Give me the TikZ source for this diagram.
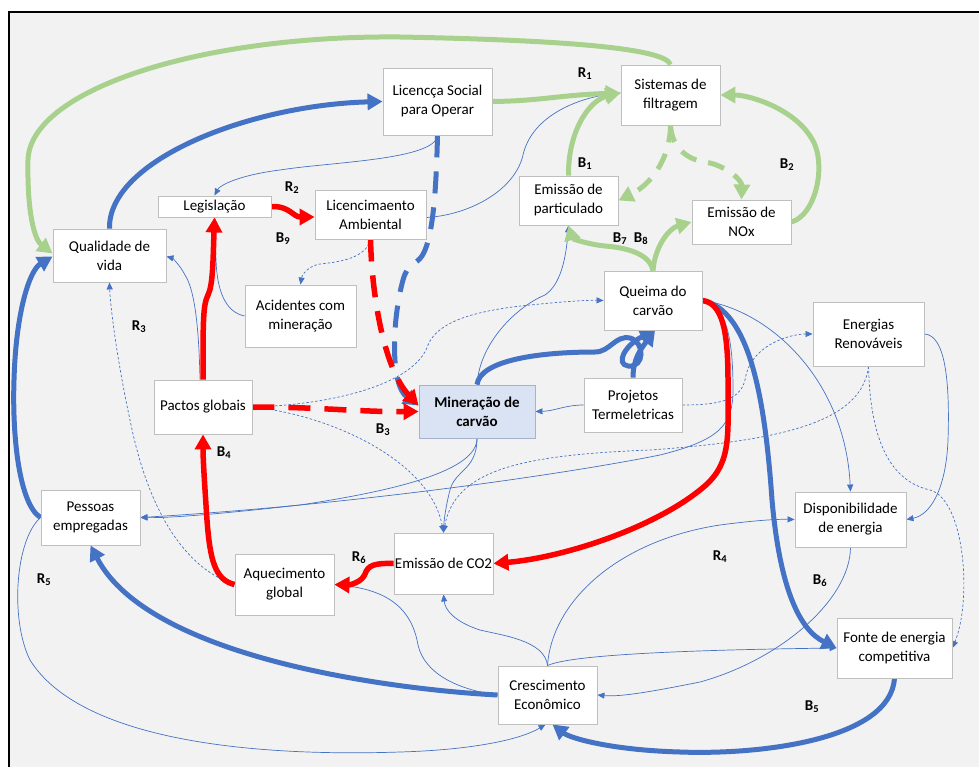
\documentclass[tikz,border=0pt]{standalone}
\usepackage{fontspec}
\setmainfont{Carlito}
\usetikzlibrary{arrows.meta,calc}
\definecolor{bgC}{HTML}{F2F2F2}
\definecolor{blueC}{HTML}{4472C4}
\definecolor{greenC}{HTML}{A9D18E}
\definecolor{redC}{HTML}{FF0000}
\definecolor{boxline}{HTML}{BFBFBF}
\definecolor{minerfill}{HTML}{DAE3F3}
\definecolor{minerline}{HTML}{A5B4CC}
\pgfdeclarelayer{bg}
\pgfdeclarelayer{edges}
\pgfsetlayers{bg,edges,main}
\newcommand\nodetextfont{\fontsize{15}{19}\selectfont}
\newcommand\looplabelfont{\fontsize{15}{17}\selectfont\bfseries}
\tikzset{
  box/.style={draw=boxline, fill=white, line width=0.9pt, inner sep=1pt,
    align=center, font=\nodetextfont},
  minerbox/.style={box, draw=minerline, fill=minerfill, font=\nodetextfont\bfseries},
  lbl/.style={font=\looplabelfont, inner sep=0pt},
  bigtip/.style={-{Triangle[length=15pt,width=16pt]}},
  gthick/.style={greenC, line width=5pt, bigtip},
  bthick/.style={blueC, line width=5pt, bigtip},
  rthick/.style={redC, line width=5.5pt, bigtip},
  bigdash/.style={dash pattern=on 22pt off 14pt},
  gdash/.style={dash pattern=on 17pt off 12pt},
  thinln/.style={blueC, line width=0.7pt, -{Triangle[length=7pt,width=6pt]}},
  thindash/.style={thinln, dash pattern=on 2.5pt off 2pt},
}
\begin{document}
\begin{tikzpicture}[x=1pt,y=-1pt]
\useasboundingbox (0,0) rectangle (979,767);
\begin{pgfonlayer}{bg}
  \fill[bgC] (9,12) rectangle (979,767);
  \draw[black, line width=1.2pt] (9,767) -- (9,12) -- (979,12);
\end{pgfonlayer}

% variables
\node[box, minimum width=109pt, minimum height=67pt] (lic) at (437.5,101.5) {Licencça Social\\para Operar};
\node[box, minimum width=99pt, minimum height=60pt] (sis) at (670.5,95) {Sistemas de\\filtragem};
\node[box, minimum width=113pt, minimum height=21pt] (leg) at (214.5,206.5) {Legislação};
\node[box, minimum width=111pt, minimum height=49pt] (amb) at (370.5,214.5) {Licencimaento\\Ambiental};
\node[box, minimum width=113pt, minimum height=53pt] (qual) at (109.5,255.5) {Qualidade de\\vida};
\node[box, minimum width=99pt, minimum height=49pt] (part) at (568.5,200.5) {Emissão de\\particulado};
\node[box, minimum width=99pt, minimum height=44pt] (nox) at (741.5,222) {Emissão de\\NOx};
\node[box, minimum width=98pt, minimum height=59pt] (queima) at (653,300.5) {Queima do\\carvão};
\node[box, minimum width=111pt, minimum height=62pt] (acid) at (300.5,316) {Acidentes com\\mineração};
\node[box, minimum width=98pt, minimum height=54pt] (pactos) at (203,407) {Pactos globais};
\node[minerbox, minimum width=116pt, minimum height=53pt] (miner) at (477,411.5) {Mineração de\\carvão};
\node[box, minimum width=98pt, minimum height=54pt] (proj) at (633,405) {Projetos\\Termeletricas};
\node[box, minimum width=111pt, minimum height=64pt] (renov) at (868.5,334) {Energias\\Renováveis};
\node[box, minimum width=111pt, minimum height=55pt] (disp) at (850.5,519.5) {Disponibilidade\\de energia};
\node[box, minimum width=99pt, minimum height=55pt] (pess) at (90.5,517.5) {Pessoas\\empregadas};
\node[box, minimum width=99pt, minimum height=61pt] (aquec) at (284.5,584.5) {Aquecimento\\global};
\node[box, minimum width=99pt, minimum height=61pt, inner sep=0pt] (co2) at (443.5,563.5) {Emissão de CO2};
\node[box, minimum width=99pt, minimum height=58pt] (cresc) at (547.5,695) {Crescimento\\Econômico};
\node[box, minimum width=115pt, minimum height=60pt] (fonte) at (894.5,648) {Fonte de energia\\competitiva};

% loop labels
\node[lbl] (r1) at (585,74) {R\textsubscript{1}};
\node[lbl] (b1) at (585,164) {B\textsubscript{1}};
\node[lbl] (b2) at (787,165) {B\textsubscript{2}};
\node[lbl] (b7) at (620,239) {B\textsubscript{7}};
\node[lbl] (b8) at (641,239) {B\textsubscript{8}};
\node[lbl] (r2) at (292,188) {R\textsubscript{2}};
\node[lbl] (b9) at (283,239) {B\textsubscript{9}};
\node[lbl] (r3) at (139,327) {R\textsubscript{3}};
\node[lbl] (b3) at (383,430) {B\textsubscript{3}};
\node[lbl] (b4) at (224,453) {B\textsubscript{4}};
\node[lbl] (r5) at (44,580) {R\textsubscript{5}};
\node[lbl] (r6) at (359,558) {R\textsubscript{6}};
\node[lbl] (r4) at (720,557) {R\textsubscript{4}};
\node[lbl] (b6) at (820,581) {B\textsubscript{6}};
\node[lbl] (b5) at (812,707) {B\textsubscript{5}};

\begin{pgfonlayer}{edges}
% thin links
\draw[thinln] ([yshift=-3pt]amb.east) .. controls (470,215) and (515,190) .. (523,155) .. controls (532,115) and (580,97) .. ([yshift=2pt]sis.west);
\draw[thinln] (lic.south) .. controls (435,160) and (330,162) .. (280,170) .. controls (240,175) and (220,185) .. (leg.north);
\draw[thindash] (amb.south) .. controls (366,258) and (340,262) .. (320,264) .. controls (308,266) and (302,275) .. (acid.north);
\draw[thinln] (acid.west) .. controls (225,312) and (217,290) .. (216,260) .. controls (215,240) and (215,230) .. (leg.south);
\draw[thinln] ([xshift=-3pt]pactos.north) .. controls (199,330) and (195,290) .. (185,275) .. controls (180,265) and (172,258) .. ([yshift=-1pt]qual.east);
\draw[thindash] (aquec.west) .. controls (190,570) and (150,520) .. (130,420) .. controls (115,350) and (110,300) .. (qual.south);
\draw[thindash] (pactos.east) .. controls (330,405) and (415,385) .. (428,345) .. controls (438,320) and (480,310) .. (530,305) .. controls (560,302) and (585,300) .. (queima.west);
\draw[thindash] (pactos.east) .. controls (330,415) and (430,460) .. (co2.north);
\draw[thinln] (miner.north) .. controls (480,340) and (520,305) .. (545,295) .. controls (560,285) and (566,260) .. (part.south);
\draw[thinln] (proj.west) .. controls (565,405) and (555,411) .. (miner.east);
\draw[thindash] (proj.east) .. controls (720,405) and (740,400) .. (745,380) .. controls (750,345) and (790,334) .. (renov.west);
\draw[thinln] (queima.east) .. controls (770,310) and (845,380) .. (disp.north);
\draw[thinln] (renov.east) .. controls (945,335) and (950,380) .. (948,440) .. controls (946,490) and (930,515) .. (disp.east);
\draw[thindash] (renov.south) .. controls (870,430) and (885,480) .. (930,490) .. controls (965,500) and (972,600) .. (fonte.east);
\draw[thindash] (renov.south) .. controls (862,420) and (790,440) .. (650,450) .. controls (520,455) and (455,470) .. (co2.north);
\draw[thinln] (miner.south) .. controls (477,470) and (455,470) .. (450,490) .. controls (446,505) and (444,520) .. (co2.north);
\draw[thinln] (miner.south) .. controls (477,470) and (400,490) .. (300,505) .. controls (220,514) and (170,518) .. (pess.east);
\draw[thinln] (queima.east) .. controls (727,305) and (733,340) .. (733,390) .. controls (733,425) and (720,440) .. (660,455) .. controls (560,475) and (350,505) .. (pess.east);
\draw[thinln] (cresc.west) .. controls (460,690) and (425,675) .. (418,645) .. controls (412,610) and (390,590) .. (aquec.east);
\draw[thinln] (cresc.north) .. controls (545,640) and (500,635) .. (480,630) .. controls (455,622) and (445,610) .. (co2.south);
\draw[thinln] (cresc.north) .. controls (552,600) and (620,540) .. (720,525) .. controls (750,521) and (775,519) .. (disp.west);
\draw[thinln] (cresc.north) .. controls (570,655) and (680,650) .. (fonte.west);
\draw[thinln] (disp.south) .. controls (850,600) and (780,660) .. (700,682) .. controls (650,692) and (620,697) .. (cresc.east);
\draw[thinln] (pess.west) .. controls (15,540) and (10,620) .. (30,660) .. controls (80,740) and (250,757) .. (400,752) .. controls (470,750) and (520,740) .. ([xshift=-2pt]cresc.south);

% green links
\draw[gthick] (sis.north) .. controls (665,48) and (560,40) .. (400,37) .. controls (200,35) and (30,90) .. (28,160) .. controls (27,215) and (35,240) .. ([yshift=2pt]qual.west);
\draw[gthick] (lic.east) .. controls (540,101) and (560,95) .. ([yshift=2pt]sis.west);
\draw[gthick] (part.north) .. controls (568,130) and (590,100) .. ([yshift=2pt]sis.west);
\draw[gthick, gdash] (sis.south) .. controls (670,160) and (650,185) .. (part.east);
\draw[gthick, gdash] (sis.south) .. controls (672,150) and (690,160) .. (705,162) .. controls (725,165) and (742,180) .. (nox.north);
\draw[gthick] (nox.east) .. controls (815,215) and (825,170) .. (815,145) .. controls (800,110) and (750,95) .. (sis.east);
\draw[gthick] (queima.north) .. controls (650,255) and (630,248) .. (605,246) .. controls (585,244) and (572,238) .. (part.south);
\draw[gthick] (queima.north) .. controls (655,245) and (670,228) .. (nox.west);

% blue links
\draw[bthick] (qual.north) .. controls (108,160) and (250,105) .. (lic.west);
\draw[bthick, bigdash] (lic.south) .. controls (436,200) and (432,240) .. (422,256) .. controls (415,266) and (408,262) .. (403,280) .. controls (392,320) and (390,385) .. ([yshift=6pt]miner.west);
\draw[bthick] (miner.north) .. controls (480,360) and (540,352) .. (595,352) .. controls (610,352) and (615,335) .. (630,338) .. controls (645,342) and (645,368) .. (628,366) .. controls (615,364) and (625,345) .. ([xshift=2pt]queima.south);
\draw[bthick] (proj.north) .. controls (633,360) and (640,350) .. ([xshift=2pt]queima.south);
\draw[bthick] (queima.east) .. controls (750,310) and (765,400) .. (772,500) .. controls (780,590) and (800,630) .. (fonte.west);
\draw[bthick] (fonte.south) .. controls (890,740) and (760,755) .. (680,752) .. controls (610,750) and (570,738) .. ([xshift=5pt]cresc.south);
\draw[bthick] (cresc.west) .. controls (400,690) and (150,660) .. (pess.south);
\draw[bthick] (pess.west) .. controls (20,505) and (12,440) .. (14,380) .. controls (16,310) and (30,270) .. ([yshift=-1pt]qual.west);

% red links
\draw[rthick, bigdash] (amb.south) .. controls (372,300) and (385,370) .. ([yshift=6pt]miner.west);
\draw[rthick, bigdash] (pactos.east) .. controls (320,407) and (360,412) .. (miner.west);
\draw[rthick] (pactos.north) .. controls (203,320) and (203,305) .. (208,295) .. controls (213,285) and (213,260) .. (leg.south);
\draw[rthick] (leg.east) .. controls (290,206) and (293,217) .. ([yshift=-2.5pt]amb.west);
\draw[rthick] (aquec.west) .. controls (215,580) and (210,560) .. (207,520) .. controls (205,490) and (203,460) .. (pactos.south);
\draw[rthick] (co2.west) .. controls (375,563) and (368,565) .. (365,574) .. controls (362,582) and (350,585) .. (aquec.east);
\draw[rthick] (queima.east) .. controls (722,303) and (728,330) .. (728,380) .. controls (728,440) and (732,465) .. (700,490) .. controls (650,530) and (560,558) .. (co2.east);
\end{pgfonlayer}
\end{tikzpicture}
\end{document}
